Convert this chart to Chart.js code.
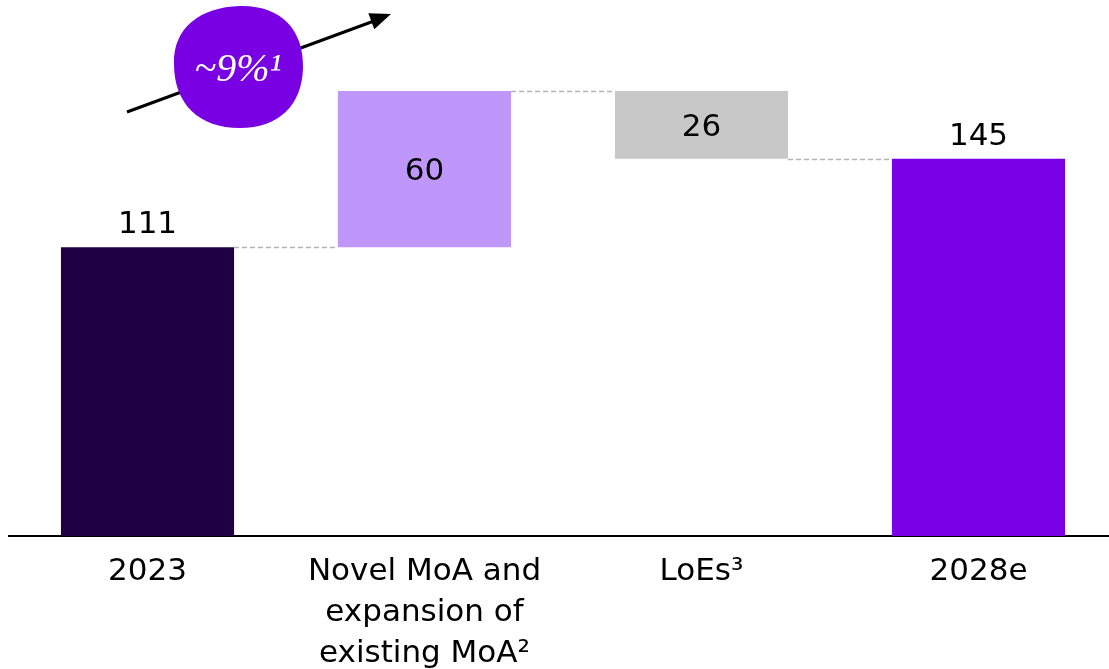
<!DOCTYPE html>
<html>
<head>
<meta charset="utf-8">
<script src="https://cdn.jsdelivr.net/npm/chart.js@4/dist/chart.umd.min.js"></script>
<style>
    html, body { margin: 0; padding: 0; background: #fff; overflow: hidden; }
    #wrap { position: relative; width: 1109px; height: 669px; overflow: hidden; }
    #wrap canvas { position: absolute; left: 0; top: 0; }
</style>
</head>
<body>
<div id="wrap"><canvas id="bridge" width="1117" height="669"></canvas></div>
<script>
const categories = [
    ['2023'],
    ['Novel MoA and', 'expansion of', 'existing MoA²'],
    ['LoEs³'],
    ['2028e']
];
const changes = [111, 60, -26, 145];
const barKinds = ['total', 'step', 'step', 'total'];
const barColors = ['#200045', '#bf97fb', '#c8c8c8', '#7a00e6'];
const growthLabel = '~9%¹';

// Turn totals and steps into floating [from, to] ranges
let running = 0;
const ranges = changes.map((v, i) => {
    if (barKinds[i] === 'total') {
        running = v;
        return [0, v];
    }
    const from = running;
    running += v;
    return [Math.min(from, running), Math.max(from, running)];
});

const FONT = '"DejaVu Sans", Verdana, sans-serif';

const bridgePlugin = {
    id: 'bridge',
    beforeDatasetsDraw(chart) {
        // dashed connectors between neighbouring bars
        const { ctx } = chart;
        const y = chart.scales.y;
        const bars = chart.getDatasetMeta(0).data;
        ctx.save();
        ctx.strokeStyle = '#b4b4b4';
        ctx.lineWidth = 1.5;
        ctx.setLineDash([5, 3]);
        for (let i = 0; i < bars.length - 1; i++) {
            const level = barKinds[i] === 'total' ? changes[i] : (changes[i] >= 0 ? ranges[i][1] : ranges[i][0]);
            const py = Math.round(y.getPixelForValue(level)) + 0.5;
            ctx.beginPath();
            ctx.moveTo(bars[i].x + bars[i].width / 2, py);
            ctx.lineTo(bars[i + 1].x - bars[i + 1].width / 2, py);
            ctx.stroke();
        }
        ctx.restore();
    },
    afterDatasetsDraw(chart) {
        const { ctx } = chart;
        const y = chart.scales.y;
        const bars = chart.getDatasetMeta(0).data;
        ctx.save();
        ctx.fillStyle = '#000';
        ctx.font = `31px ${FONT}`;
        ctx.textAlign = 'center';
        ctx.textBaseline = 'middle';
        bars.forEach((bar, i) => {
            const text = String(Math.abs(changes[i]));
            if (barKinds[i] === 'total') {
                ctx.fillText(text, bar.x, y.getPixelForValue(ranges[i][1]) - 22);
            } else {
                const mid = (ranges[i][0] + ranges[i][1]) / 2;
                ctx.fillText(text, bar.x, y.getPixelForValue(mid) + 3);
            }
        });

        // growth arrow with the CAGR badge on top
        ctx.strokeStyle = '#000';
        ctx.fillStyle = '#000';
        ctx.lineWidth = 3;
        ctx.beginPath();
        ctx.moveTo(127, 112);
        ctx.lineTo(374, 21);
        ctx.stroke();
        const tipX = 391, tipY = 14;
        const ang = Math.atan2(tipY - 112, tipX - 127);
        const len = 21, half = 8.5;
        ctx.beginPath();
        ctx.moveTo(tipX, tipY);
        ctx.lineTo(tipX - len * Math.cos(ang) + half * Math.sin(ang), tipY - len * Math.sin(ang) - half * Math.cos(ang));
        ctx.lineTo(tipX - len * Math.cos(ang) - half * Math.sin(ang), tipY - len * Math.sin(ang) + half * Math.cos(ang));
        ctx.closePath();
        ctx.fill();

        ctx.fillStyle = '#7800e2';
        ctx.beginPath();
        ctx.moveTo(240, 6);
        ctx.bezierCurveTo(281, 5, 304, 30, 303, 68);
        ctx.bezierCurveTo(302, 106, 278, 128, 240, 128);
        ctx.bezierCurveTo(199, 128, 174, 104, 174, 64);
        ctx.bezierCurveTo(173, 28, 200, 7, 240, 6);
        ctx.fill();

        ctx.fillStyle = '#fff';
        ctx.font = `italic 40px "Liberation Serif", "DejaVu Serif", serif`;
        ctx.fillText(growthLabel, 238, 70);
        ctx.restore();
    }
};

new Chart(document.getElementById('bridge'), {
    type: 'bar',
    data: {
        labels: categories,
        datasets: [{
            data: ranges,
            backgroundColor: barColors,
            borderWidth: 0,
            borderSkipped: false,
            categoryPercentage: 1,
            barPercentage: 0.625
        }]
    },
    options: {
        responsive: false,
        animation: false,
        layout: { padding: { left: 9, right: 0, top: 0, bottom: 0 } },
        plugins: { legend: { display: false }, tooltip: { enabled: false } },
        scales: {
            x: {
                grid: { display: false, drawTicks: false },
                border: { display: true, color: '#000', width: 2 },
                ticks: {
                    color: '#000',
                    padding: 15,
                    maxRotation: 0,
                    autoSkip: false,
                    font: { family: FONT, size: 31, lineHeight: 1.33 }
                },
                afterFit: (scale) => { scale.height = 133; }
            },
            y: {
                display: false,
                min: 0,
                max: 206
            }
        }
    },
    plugins: [bridgePlugin]
});
</script>
</body>
</html>
